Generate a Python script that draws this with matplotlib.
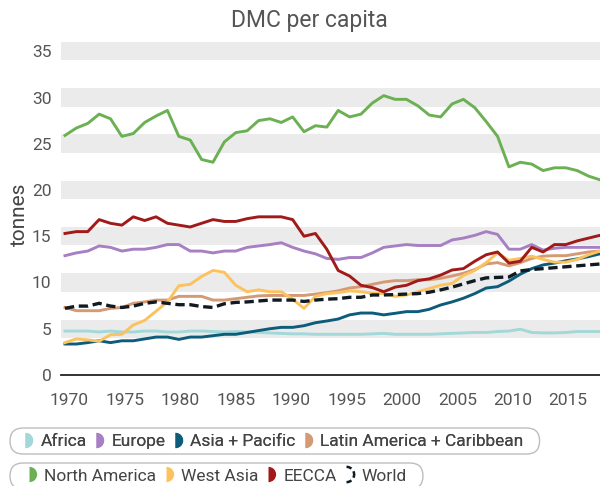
import numpy as np
import matplotlib
matplotlib.use("Agg")
import matplotlib.pyplot as plt
from matplotlib.lines import Line2D
from matplotlib.path import Path
from matplotlib.patches import FancyBboxPatch
from matplotlib.transforms import IdentityTransform

plt.rcParams['font.family'] = ['Roboto', 'DejaVu Sans']

# ---------------- data ----------------
years = list(range(1970, 2018))

africa = [4.75, 4.75, 4.75, 4.65, 4.75, 4.65, 4.65, 4.75, 4.75, 4.65,
          4.65, 4.75, 4.75, 4.7, 4.65, 4.7, 4.65, 4.6, 4.55, 4.5,
          4.45, 4.45, 4.4, 4.4, 4.4, 4.4, 4.4, 4.45, 4.5, 4.4,
          4.4, 4.4, 4.4, 4.45, 4.5, 4.55, 4.6, 4.6, 4.7, 4.75,
          4.95, 4.6, 4.55, 4.55, 4.6, 4.7, 4.7, 4.7]
europe = [12.9, 13.2, 13.4, 13.95, 13.8, 13.4, 13.6, 13.6, 13.8, 14.1,
          14.1, 13.4, 13.4, 13.2, 13.4, 13.4, 13.8, 13.95, 14.1, 14.3,
          13.8, 13.4, 13.1, 12.6, 12.5, 12.7, 12.7, 13.2, 13.8, 13.95,
          14.1, 14.0, 14.0, 14.0, 14.6, 14.8, 15.1, 15.5, 15.2, 13.6,
          13.6, 14.1, 13.5, 13.7, 13.8, 13.8, 13.8, 13.8]
asia_pacific = [3.35, 3.35, 3.5, 3.7, 3.5, 3.7, 3.7, 3.9, 4.1, 4.1,
                3.85, 4.1, 4.1, 4.25, 4.4, 4.4, 4.6, 4.8, 5.0, 5.15,
                5.15, 5.33, 5.65, 5.84, 6.05, 6.5, 6.7, 6.7, 6.5, 6.67,
                6.85, 6.85, 7.1, 7.57, 7.9, 8.3, 8.8, 9.4, 9.55, 10.15,
                10.9, 11.5, 11.9, 12.1, 12.35, 12.55, 12.8, 13.1]
latin_america = [7.3, 6.95, 6.95, 6.95, 7.2, 7.3, 7.75, 7.9, 8.1, 8.1,
                 8.5, 8.5, 8.5, 8.1, 8.1, 8.25, 8.4, 8.55, 8.6, 8.6,
                 8.6, 8.6, 8.75, 8.9, 9.1, 9.4, 9.55, 9.8, 10.05, 10.2,
                 10.2, 10.3, 10.3, 10.45, 10.7, 11.0, 11.4, 12.0, 12.15, 11.8,
                 12.15, 12.6, 12.85, 12.9, 12.9, 13.1, 13.3, 13.4]
north_america = [25.9, 26.7, 27.2, 28.2, 27.7, 25.8, 26.1, 27.3, 28.0, 28.6,
                 25.8, 25.4, 23.3, 23.0, 25.2, 26.2, 26.4, 27.5, 27.7, 27.3,
                 27.9, 26.3, 26.95, 26.8, 28.6, 27.9, 28.2, 29.4, 30.2, 29.8,
                 29.8, 29.1, 28.1, 27.9, 29.3, 29.8, 28.9, 27.4, 25.8, 22.5,
                 23.0, 22.8, 22.1, 22.4, 22.4, 22.1, 21.5, 21.1]
west_asia = [3.5, 3.9, 3.8, 3.65, 4.35, 4.4, 5.4, 5.9, 6.9, 7.9,
             9.65, 9.8, 10.65, 11.3, 11.1, 9.7, 9.0, 9.2, 9.0, 9.0,
             8.2, 7.2, 8.5, 8.8, 8.9, 9.1, 9.0, 8.85, 8.8, 8.5,
             8.65, 9.0, 9.35, 9.7, 9.9, 10.75, 11.3, 12.15, 13.2, 12.4,
             12.6, 12.85, 12.5, 12.2, 12.2, 12.5, 13.0, 13.4]
eecca = [15.3, 15.5, 15.5, 16.8, 16.4, 16.2, 17.1, 16.7, 17.1, 16.4,
         16.2, 16.0, 16.4, 16.8, 16.6, 16.6, 16.9, 17.1, 17.1, 17.1,
         16.8, 15.0, 15.3, 13.6, 11.3, 10.7, 9.7, 9.45, 9.0, 9.5,
         9.7, 10.2, 10.4, 10.8, 11.35, 11.5, 12.3, 13.0, 13.3, 12.1,
         12.3, 13.8, 13.3, 14.1, 14.1, 14.5, 14.8, 15.1]
world = [7.2, 7.45, 7.45, 7.75, 7.45, 7.3, 7.45, 7.75, 7.9, 7.75,
         7.6, 7.6, 7.4, 7.3, 7.7, 7.85, 7.9, 8.0, 8.1, 8.1,
         8.1, 7.95, 8.1, 8.2, 8.25, 8.4, 8.4, 8.65, 8.65, 8.7,
         8.75, 8.8, 8.95, 9.2, 9.5, 9.85, 10.2, 10.5, 10.55, 10.6,
         11.25, 11.4, 11.5, 11.6, 11.7, 11.8, 11.9, 12.0]

series_names = ["Africa", "Europe", "Asia + Pacific", "Latin America + Caribbean",
                "North America", "West Asia", "EECCA", "World"]
series_values = [africa, europe, asia_pacific, latin_america,
                 north_america, west_asia, eecca, world]
series_colors = ["#a3d8d8", "#a77fc3", "#0d5c7a", "#d59a74",
                 "#6bb052", "#fcc25e", "#a11a1a", "#0f1a22"]

y_ticks = [0, 5, 10, 15, 20, 25, 30, 35]
x_tick_labels = [1970, 1975, 1980, 1985, 1990, 1995, 2000, 2005, 2010, 2015]

title = "DMC per capita"
y_label = "tonnes"

# ---------------- figure ----------------
W, H = 600, 486
fig = plt.figure(figsize=(W / 100, H / 100), dpi=100)
ax = fig.add_axes([61 / W, 1 - 375 / H, 539 / W, 333 / H])

for t in y_ticks[1:]:
    ax.axhspan(t - 1, t + 1, color="#ebebeb", lw=0, zorder=0)

for name, vals, col in zip(series_names, series_values, series_colors):
    if name == "World":
        ax.plot(years, vals, color=col, lw=2.4, linestyle=(0, (2.8, 1.4)),
                zorder=5, solid_capstyle="butt")
    else:
        ax.plot(years, vals, color=col, lw=2.1, zorder=3)

ax.set_xlim(1969.65, 2017.0)
ax.set_ylim(0, 36)
for s in ["top", "right", "left"]:
    ax.spines[s].set_visible(False)
ax.spines["bottom"].set_color("#222222")
ax.spines["bottom"].set_linewidth(1.3)
ax.set_yticks(y_ticks)
ax.tick_params(axis="y", length=0, pad=7, labelsize=12.5, labelcolor="#555555")
ax.set_xticks([])

# label scale of the reference's x axis
def fwd(y):
    return 1970 + (11.38 * (np.asarray(y) - 1970) - 4.5) / 11.08

def inv(l):
    return 1970 + (11.08 * (np.asarray(l) - 1970) + 4.5) / 11.38

sec = ax.secondary_xaxis("bottom", functions=(fwd, inv))
sec.set_xticks(x_tick_labels)
sec.tick_params(length=0, pad=13, labelsize=12.5, labelcolor="#555555")
sec.spines["bottom"].set_visible(False)

fig.text(309 / W, 1 - 27 / H, title, ha="center", va="baseline",
         fontsize=16.5, color="#555555")
fig.text(19 / W, 1 - 214 / H, y_label, ha="center", va="center",
         rotation=90, fontsize=15, color="#444444")

# ---------------- legend ----------------
def dashed_half():
    verts, codes = [], []
    for a0, a1 in [(90, 50), (25, -25), (-50, -90)]:
        t = np.radians(np.linspace(a0, a1, 8))
        pts = np.column_stack([np.cos(t), np.sin(t)])
        verts.extend(pts.tolist())
        codes.extend([Path.MOVETO] + [Path.LINETO] * (len(pts) - 1))
    verts.append([-1, 0]); codes.append(Path.MOVETO)
    verts.append([-1, 0]); codes.append(Path.LINETO)
    return Path(verts, codes)

handles = []
for name, col in zip(series_names, series_colors):
    if name == "World":
        handles.append(Line2D([], [], linestyle="none", marker=dashed_half(),
                              markersize=11, markerfacecolor="none",
                              markeredgecolor=col, markeredgewidth=1.8))
    else:
        handles.append(Line2D([], [], linestyle="none", marker="o",
                              fillstyle="right", markersize=11,
                              markerfacecolor=col, markerfacecoloralt="none",
                              markeredgewidth=0))

def make_legend(hs, labels, x_left, y_center):
    leg = fig.legend(hs, labels, loc="center left",
                     bbox_to_anchor=(x_left / W, 1 - y_center / H),
                     ncol=len(hs), frameon=False, fontsize=12.5,
                     handlelength=0.6, handletextpad=0.58, columnspacing=0.25,
                     borderpad=0, borderaxespad=0, labelcolor="#444444")
    return leg

leg1 = make_legend(handles[:4], series_names[:4], 20, 441)
fig.add_artist(leg1)
leg2 = make_legend(handles[4:], series_names[4:], 24, 476)

fig.canvas.draw()
for leg, (top, bot) in [(leg1, (428, 454)), (leg2, (463, 489))]:
    bb = leg.get_window_extent()
    x0 = 10
    x1 = bb.x1 + 16
    h = bot - top
    box = FancyBboxPatch((x0, H - bot), x1 - x0, h,
                         boxstyle=f"round,pad=0,rounding_size={h / 2}",
                         transform=IdentityTransform(), facecolor="none",
                         edgecolor="#bdbdbd", linewidth=1.0)
    fig.add_artist(box)

fig.savefig("out.png", dpi=100)
